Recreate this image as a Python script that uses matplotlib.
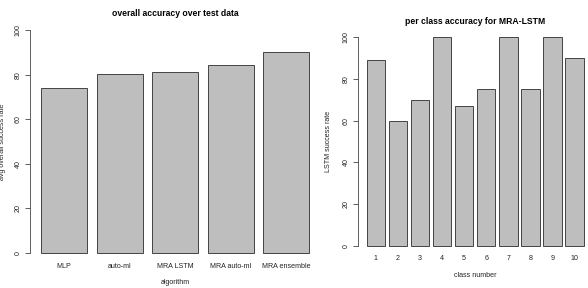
import matplotlib
matplotlib.use('Agg')
import matplotlib.pyplot as plt

plt.rcParams['font.family'] = ['Liberation Sans', 'DejaVu Sans']

algorithms = ['MLP', 'auto-ml', 'MRA LSTM', 'MRA auto-ml', 'MRA ensemble']
overall_acc = [74.2, 80.1, 81.2, 84.1, 90.1]

classes = [str(i) for i in range(1, 11)]
class_acc = [89, 60, 70, 100, 67, 75, 100, 75, 100, 90]

bar_color = '#bebebe'
edge_color = '#444444'
txt = '#222222'
lab_size = 5.1
title_size = 6.2


def r_barplot(ax, names, values, title, xlabel, ylabel, xlabel_pad):
    # R barplot layout: width 1, space 0.2, 4% axis extension
    n = len(values)
    lefts = [0.2 + 1.2 * i for i in range(n)]
    centers = [l + 0.5 for l in lefts]
    ax.bar(centers, values, width=1.0, color=bar_color, edgecolor=edge_color,
           linewidth=0.7)
    span = lefts[-1] + 1.0 - 0.2
    ax.set_xlim(0.2 - 0.04 * span, lefts[-1] + 1.0 + 0.04 * span)
    ax.set_ylim(-4, 104)
    for s in ['top', 'right', 'bottom']:
        ax.spines[s].set_visible(False)
    ax.spines['left'].set_bounds(0, 100)
    ax.spines['left'].set_linewidth(0.6)
    ax.spines['left'].set_color('#444444')
    ax.set_yticks([0, 20, 40, 60, 80, 100])
    ax.set_yticklabels(['0', '20', '40', '60', '80', '100'], rotation=90,
                       va='center', fontsize=lab_size, color=txt)
    ax.tick_params(axis='y', length=3.5, width=0.6, color='#444444', pad=2.5)
    ax.set_xticks(centers)
    ax.set_xticklabels(names, fontsize=lab_size, color=txt)
    ax.tick_params(axis='x', length=0, pad=1)
    ax.set_title(title, fontsize=title_size, fontweight='bold', pad=4)
    ax.set_xlabel(xlabel, fontsize=lab_size, color=txt, labelpad=xlabel_pad)
    ax.set_ylabel(ylabel, fontsize=lab_size, color=txt)


fig = plt.figure(figsize=(5.88, 2.88), dpi=100)

ax1 = fig.add_axes([0.0514, 0.0906, 0.4932, 0.8361])
r_barplot(ax1, algorithms, overall_acc, 'overall accuracy over test data',
          'algorithm', 'avg overall success rate', 6.5)
ax1.yaxis.set_label_coords(-0.085, 0.5)

ax2 = fig.add_axes([0.6088, 0.118, 0.3989, 0.781])
r_barplot(ax2, classes, class_acc, 'per class accuracy for MRA-LSTM',
          'class number', 'LSTM success rate', 7)
ax2.yaxis.set_label_coords(-0.11, 0.5)

fig.savefig('out.png', dpi=100)
